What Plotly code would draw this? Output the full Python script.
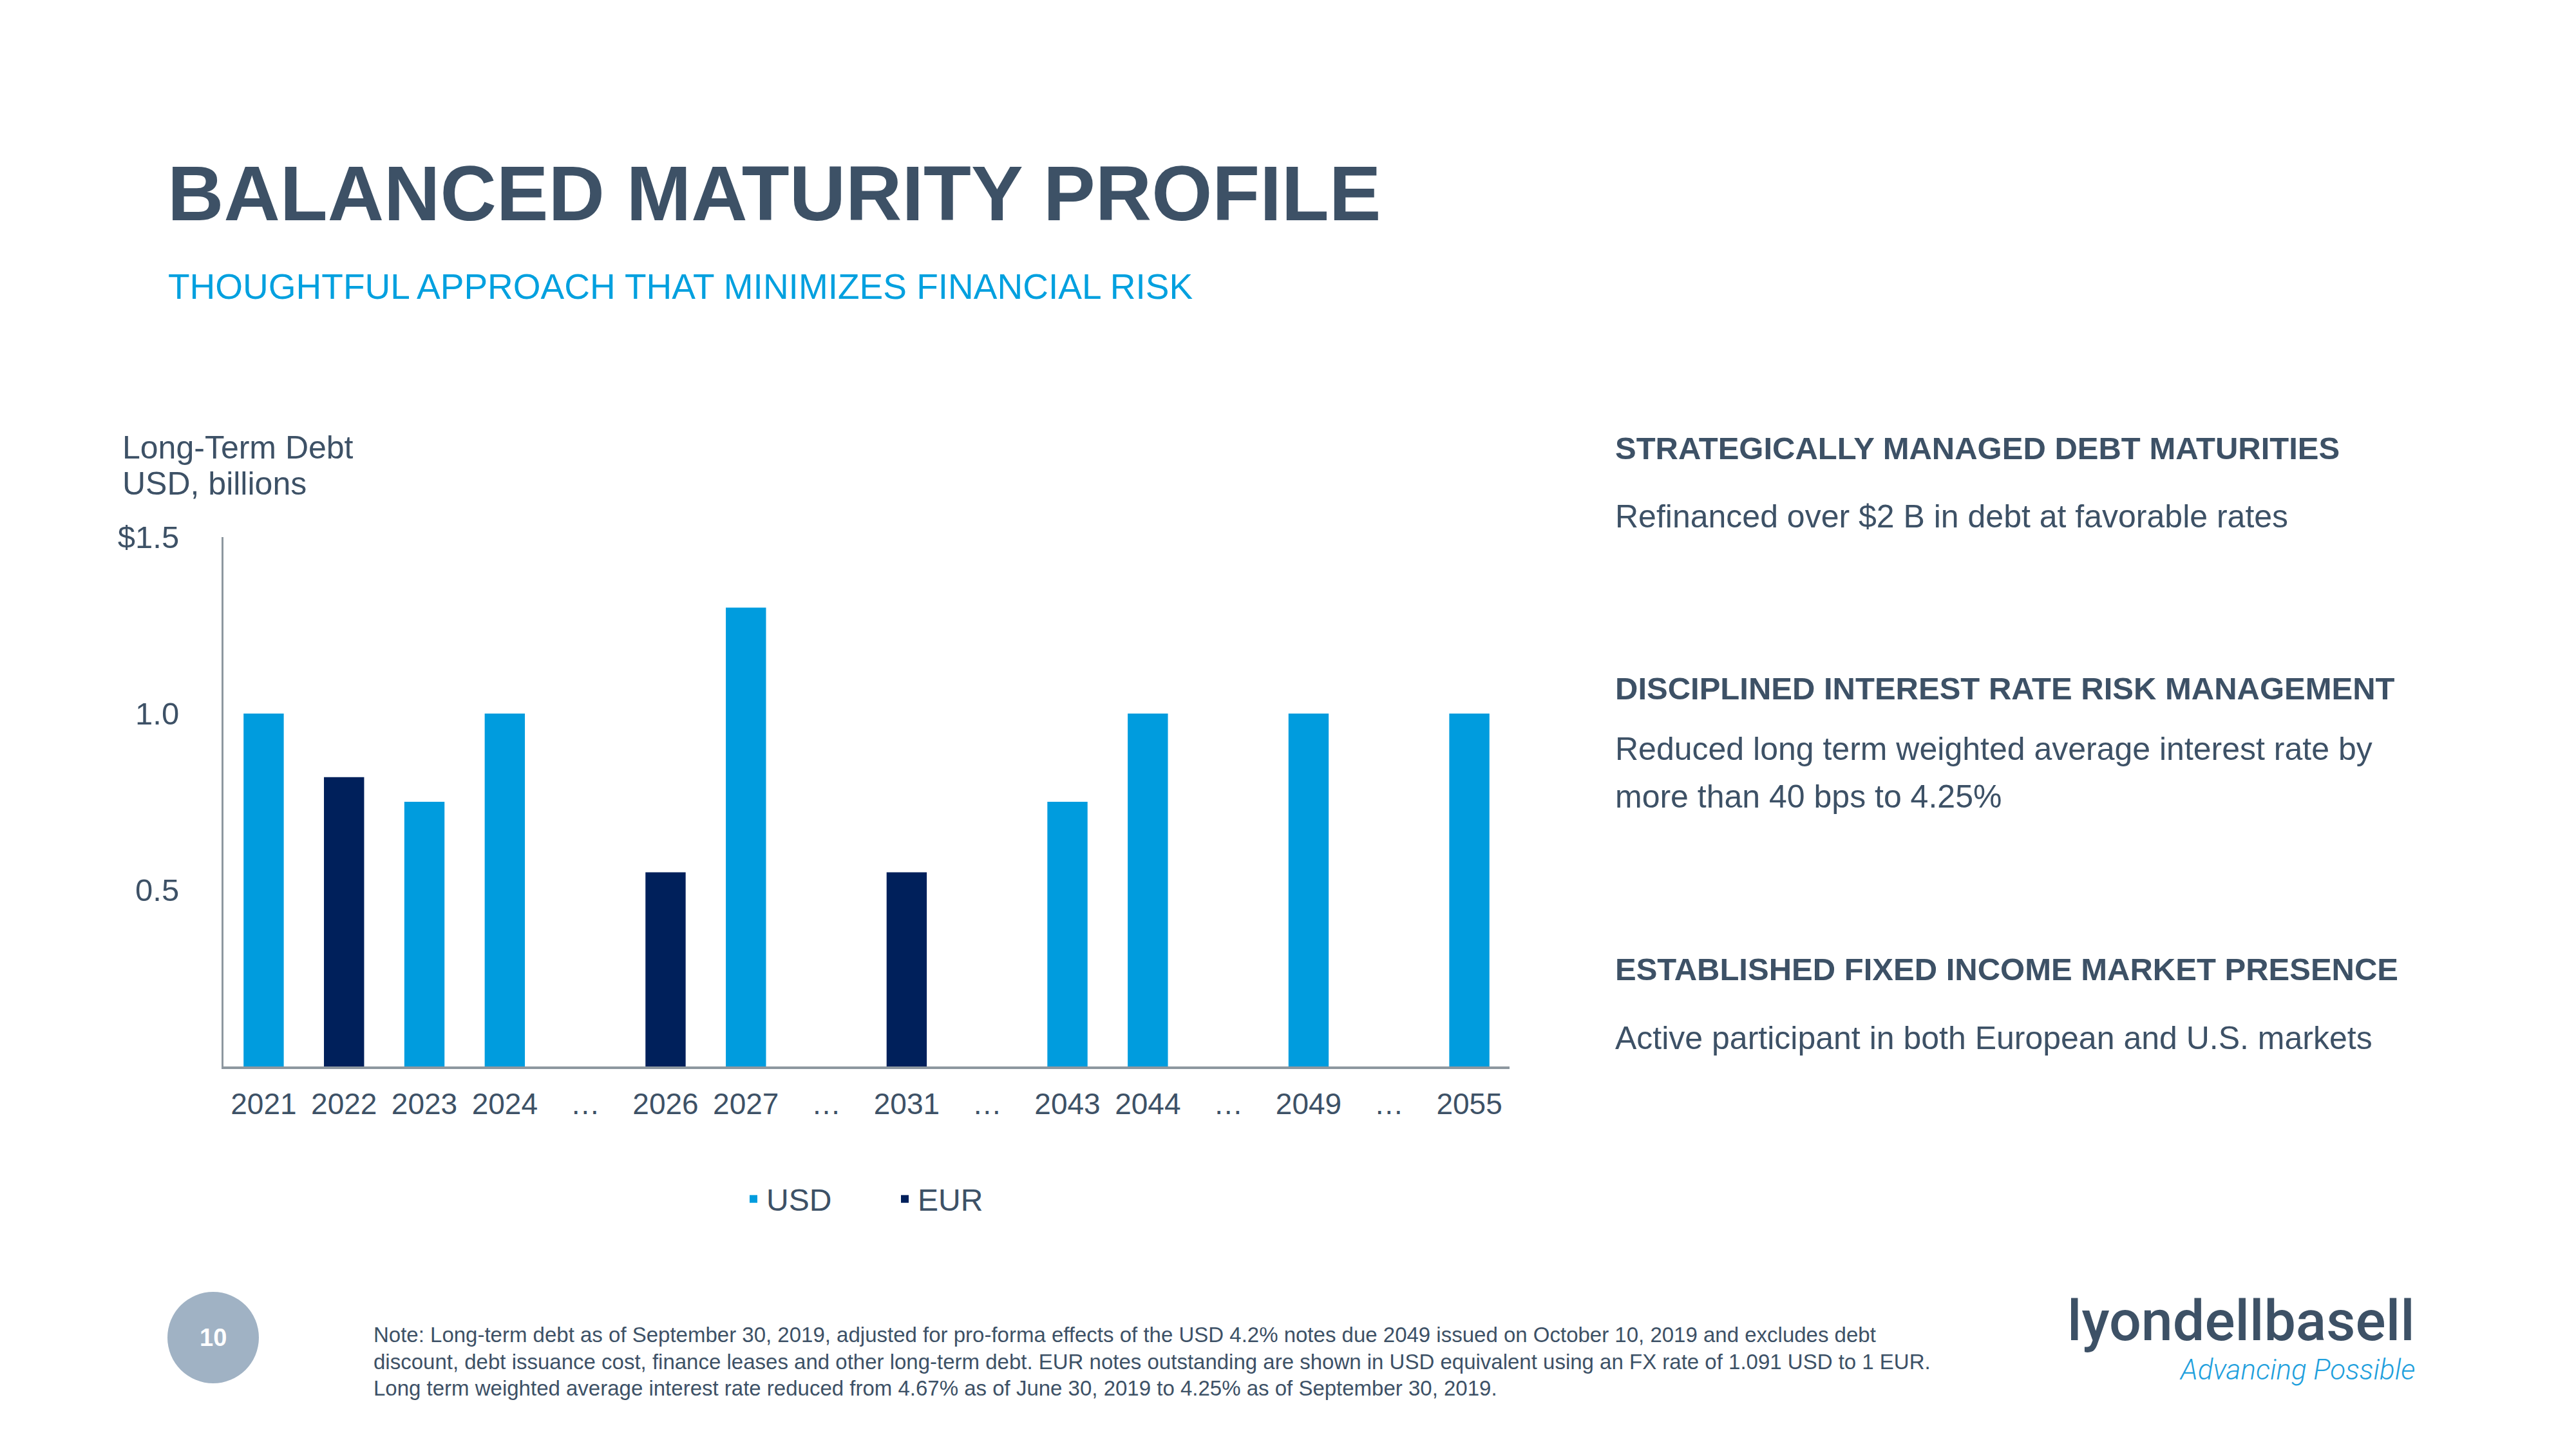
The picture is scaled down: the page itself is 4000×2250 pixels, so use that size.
import plotly.graph_objects as go

# The page body adds an 8px margin, so the figure is drawn 8px smaller and
# all reference pixel positions are shifted by that offset.
PAGE_W, PAGE_H = 4000, 2250
OFF = 8
W, H = PAGE_W - OFF, PAGE_H - OFF

# ---------------- data ----------------
year_labels = ["2021", "2022", "2023", "2024", "…", "2026", "2027", "…",
               "2031", "…", "2043", "2044", "…", "2049", "…", "2055"]
usd_values = [1.0, None, 0.75, 1.0, None, None, 1.3, None,
              None, None, 0.75, 1.0, None, 1.0, None, 1.0]
eur_values = [None, 0.82, None, None, None, 0.55, None, None,
              0.55, None, None, None, None, None, None, None]
y_tick_vals = [0.5, 1.0, 1.5]
y_tick_text = ["0.5", "1.0", "$1.5"]

positions = list(range(len(year_labels)))

# ---------------- style ----------------
FONT = "Liberation Sans, Arial, Helvetica, sans-serif"
LOGO_FONT = "Roboto, Liberation Sans, sans-serif"
SLATE = "#3D5166"
CYAN = "#00A0DF"
USD_COLOR = "#009CDE"
EUR_COLOR = "#00205B"
AXIS_GRAY = "#8D979F"


def px_x(x):
    return (x - OFF) / W


def px_y(y):
    return 1 - (y - OFF) / H


fig = go.Figure()
fig.add_trace(go.Bar(x=positions, y=usd_values, name="USD", width=0.5,
                     marker=dict(color=USD_COLOR, line=dict(width=0))))
fig.add_trace(go.Bar(x=positions, y=eur_values, name="EUR", width=0.5,
                     marker=dict(color=EUR_COLOR, line=dict(width=0))))

annotations = []


def ann(text, x, y, size, color=SLATE, weight="normal", xanchor="left",
        family=FONT, style="normal"):
    annotations.append(dict(
        text=text, x=px_x(x), y=px_y(y), xref="paper", yref="paper",
        xanchor=xanchor, yanchor="middle", showarrow=False,
        font=dict(family=family, size=size, color=color, weight=weight, style=style),
    ))


# Titles
ann("BALANCED MATURITY PROFILE", 258, 300, 121, SLATE, "bold")
ann("THOUGHTFUL APPROACH THAT MINIMIZES FINANCIAL RISK", 259, 445, 55, CYAN)

# Axis title
ann("Long-Term Debt", 188, 695, 50)
ann("USD, billions", 188, 751, 50)

# Right-hand panel
ann("STRATEGICALLY MANAGED DEBT MATURITIES", 2506, 696, 49, SLATE, "bold")
ann("Refinanced over $2 B in debt at favorable rates", 2506, 802, 50)
ann("DISCIPLINED INTEREST RATE RISK MANAGEMENT", 2506, 1069, 49, SLATE, "bold")
ann("Reduced long term weighted average interest rate by", 2506, 1163, 50)
ann("more than 40 bps to 4.25%", 2506, 1237, 50)
ann("ESTABLISHED FIXED INCOME MARKET PRESENCE", 2506, 1505, 49, SLATE, "bold")
ann("Active participant in both European and U.S. markets", 2506, 1612, 50)

# Footnote
ann("Note: Long-term debt as of September 30, 2019, adjusted for pro-forma effects of the USD 4.2% notes due 2049 "
    "issued on October 10, 2019 and excludes debt", 578, 2072, 33)
ann("discount, debt issuance cost, finance leases and other long-term debt. EUR notes outstanding are shown in USD "
    "equivalent using an FX rate of 1.091 USD to 1 EUR.", 578, 2114, 33)
ann("Long term weighted average interest rate reduced from 4.67% as of June 30, 2019 to 4.25% as of September 30, 2019.",
    578, 2155, 33)

# Page number
ann("10", 331, 2077, 38, "#FFFFFF", "bold", xanchor="center")

# Logo text
ann("lyondellbasell", 3752, 2050, 88, SLATE, 500, xanchor="right", family=LOGO_FONT)
ann("Advancing Possible", 3752, 2127, 44, "#1FA0DD", 300, xanchor="right",
    family=LOGO_FONT, style="italic")

shapes = [dict(type="circle", xref="paper", yref="paper",
               x0=px_x(331 - 71), x1=px_x(331 + 71),
               y0=px_y(2077 + 71), y1=px_y(2077 - 71),
               fillcolor="#A0B2C4", line=dict(width=0), layer="below")]

fig.update_layout(
    width=W, height=H,
    margin=dict(l=0, r=0, t=0, b=0, autoexpand=False),
    paper_bgcolor="white", plot_bgcolor="white",
    barmode="overlay",
    font=dict(family=FONT, color=SLATE),
    showlegend=True,
    legend=dict(orientation="h", x=px_x(1150), xanchor="left",
                y=px_y(1862), yanchor="middle",
                entrywidth=190, entrywidthmode="pixels",
                font=dict(family=FONT, size=48, color=SLATE),
                bgcolor="rgba(0,0,0,0)", traceorder="normal"),
    xaxis=dict(domain=[px_x(347), px_x(2344)], range=[-0.5, len(year_labels) - 0.5],
               tickmode="array", tickvals=positions, ticktext=year_labels,
               showline=True, linecolor=AXIS_GRAY, linewidth=4,
               showgrid=False, zeroline=False, ticks="",
               tickfont=dict(family=FONT, size=46, color=SLATE),
               ticklabelstandoff=15, fixedrange=True),
    yaxis=dict(domain=[px_y(1656), px_y(834)], range=[0, 1.5],
               tickmode="array", tickvals=y_tick_vals, ticktext=y_tick_text,
               showline=True, linecolor=AXIS_GRAY, linewidth=3,
               showgrid=False, zeroline=False, ticks="",
               tickfont=dict(family=FONT, size=49, color=SLATE),
               ticklabelstandoff=56, fixedrange=True),
    annotations=annotations,
    shapes=shapes,
)

fig.write_html("out.html")
